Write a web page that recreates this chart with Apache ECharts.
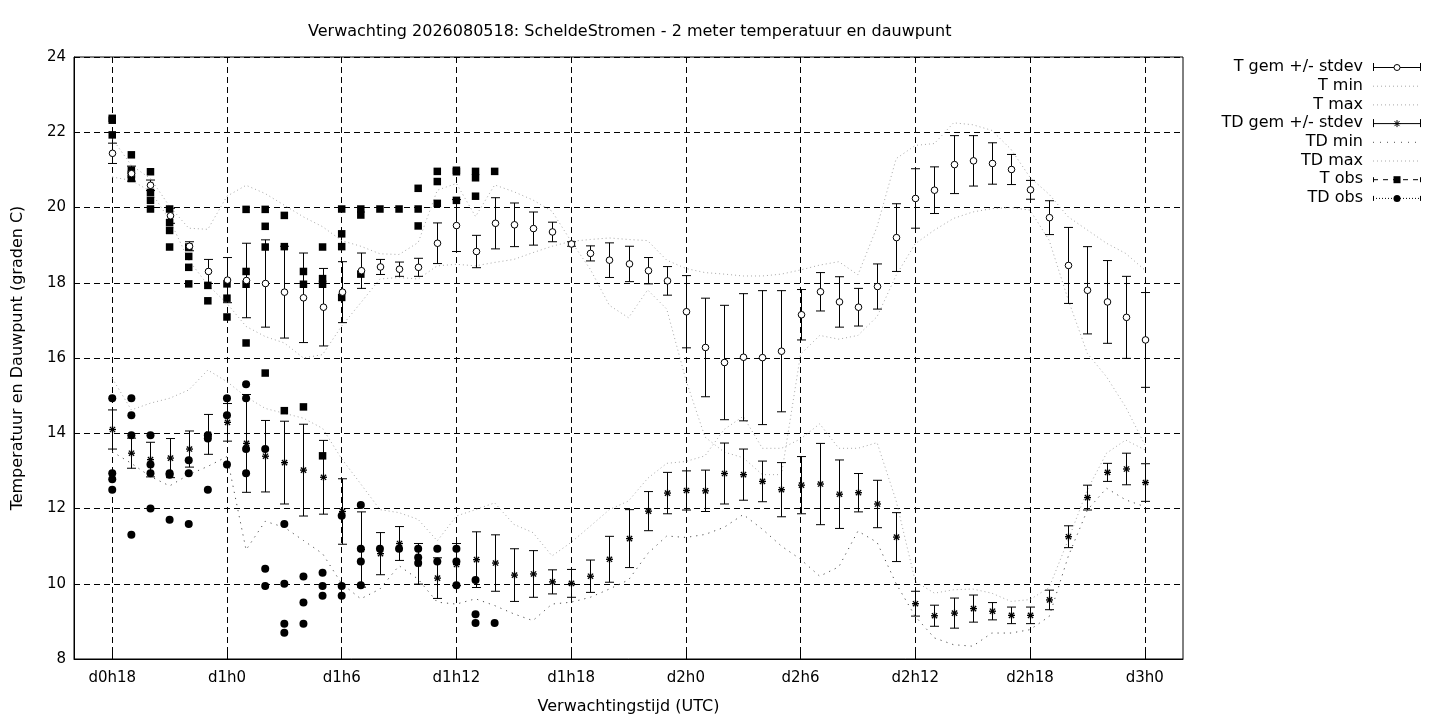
<!DOCTYPE html>
<html>
<head>
<meta charset="utf-8">
<title>ScheldeStromen - 2 meter temperatuur en dauwpunt</title>
<script src="https://cdn.jsdelivr.net/npm/echarts@6/dist/echarts.min.js"></script>
<style>
  html, body { margin: 0; padding: 0; background: #fff; }
  #chart { width: 1440px; height: 720px; }
</style>
</head>
<body>
<div id="chart"></div>
<script>
// uren vanaf d0h0
const hours = [18, 19, 20, 21, 22, 23, 24, 25, 26, 27, 28, 29, 30, 31, 32, 33, 34, 35, 36, 37, 38, 39, 40, 41,
  42, 43, 44, 45, 46, 47, 48, 49, 50, 51, 52, 53, 54, 55, 56, 57, 58, 59, 60, 61, 62, 63, 64, 65, 66, 67, 68, 69, 70, 71, 72];
const xTicks = [18, 24, 30, 36, 42, 48, 54, 60, 66, 72];

const tGemMean = [21.44, 20.9, 20.59, 19.78, 18.97, 18.3, 18.07, 18.06, 17.98, 17.75, 17.6, 17.35,
  17.75, 18.32, 18.42, 18.36, 18.41, 19.05, 19.52, 18.83, 19.58, 19.54, 19.44, 19.35,
  19.03, 18.78, 18.6, 18.5, 18.32, 18.05, 17.23, 16.28, 15.88, 16.02, 16.01, 16.18,
  17.15, 17.76, 17.49, 17.35, 17.9, 19.2, 20.24, 20.46, 21.14, 21.24, 21.17, 21.01,
  20.47, 19.73, 18.46, 17.8, 17.49, 17.08, 16.48];
const tGemSd = [0.27, 0.2, 0.14, 0.2, 0.12, 0.32, 0.6, 0.99, 1.16, 1.22, 1.19, 1.03,
  0.81, 0.47, 0.2, 0.19, 0.24, 0.54, 0.69, 0.43, 0.68, 0.58, 0.44, 0.26,
  0.06, 0.2, 0.46, 0.47, 0.35, 0.38, 0.96, 1.31, 1.52, 1.69, 1.78, 1.61,
  0.67, 0.51, 0.67, 0.5, 0.6, 0.9, 0.79, 0.62, 0.77, 0.67, 0.55, 0.4,
  0.25, 0.45, 1.01, 1.16, 1.1, 1.09, 1.26];
const tMin = [20.81, 20.72, 20.43, 19.67, 18.6, 17.94, 17.45, 16.84, 16.57, 16.4, 16.0, 16.09,
  16.85, 17.47, 18.1, 18.14, 18.1, 18.45, 18.49, 18.45, 18.54, 18.62, 18.8, 18.97,
  19.1, 18.36, 17.4, 17.07, 17.81, 17.3, 15.42, 13.9, 13.5, 13.35, 12.9, 12.9,
  16.1, 16.6, 16.5, 16.6, 17.1, 18.2, 19.04, 19.4, 19.71, 19.88, 19.97, 20.0,
  19.93, 19.13, 17.54, 16.12, 15.5, 14.7, 13.7];
const tMax = [21.83, 21.12, 20.77, 20.03, 19.45, 19.42, 20.3, 20.59, 20.37, 20.06, 19.75, 19.49,
  19.12, 18.97, 18.77, 18.75, 19.07, 20.46, 20.64, 19.76, 20.6, 20.42, 20.2, 19.9,
  19.1, 19.15, 19.19, 19.15, 19.12, 18.6, 18.38, 18.27, 18.23, 18.18, 18.18, 18.23,
  18.34, 18.47, 18.56, 18.21, 19.49, 21.3, 21.65, 21.7, 22.25, 22.2, 22.05, 21.55,
  20.8, 20.35, 19.75, 19.4, 19.05, 18.78, 18.34];

const tdGemMean = [14.1, 13.47, 13.3, 13.34, 13.58, 13.97, 14.29, 13.73, 13.39, 13.22, 13.02, 12.83,
  11.92, 10.91, 10.8, 11.07, 10.53, 10.15, 10.51, 10.64, 10.55, 10.23, 10.26, 10.05,
  10.01, 10.2, 10.65, 11.2, 11.93, 12.41, 12.48, 12.47, 12.93, 12.9, 12.72, 12.5,
  12.62, 12.65, 12.38, 12.42, 12.12, 11.24, 9.47, 9.15, 9.22, 9.34, 9.27, 9.16,
  9.16, 9.57, 11.25, 12.29, 12.96, 13.05, 12.69];
const tdGemSd = [0.52, 0.4, 0.46, 0.52, 0.48, 0.53, 0.5, 1.3, 0.95, 1.1, 1.22, 0.98,
  0.87, 1.0, 0.56, 0.45, 0.54, 0.54, 0.56, 0.74, 0.75, 0.7, 0.62, 0.32,
  0.37, 0.43, 0.61, 0.77, 0.52, 0.55, 0.52, 0.55, 0.81, 0.68, 0.54, 0.72,
  0.76, 1.08, 0.91, 0.51, 0.63, 0.65, 0.33, 0.28, 0.4, 0.36, 0.23, 0.22,
  0.22, 0.26, 0.29, 0.33, 0.24, 0.42, 0.5];
const tdMin = [13.51, 13.2, 12.85, 12.6, 12.9, 13.12, 13.38, 10.9, 11.66, 11.5, 11.15, 10.8,
  10.0, 9.6, 9.86, 10.48, 10.12, 9.51, 9.46, 9.6, 9.42, 9.2, 9.02, 9.46,
  9.51, 9.64, 9.86, 10.1, 10.8, 11.27, 11.23, 11.31, 11.5, 11.84, 11.45, 11.0,
  10.65, 10.2, 10.45, 11.4, 11.1, 10.0, 9.13, 8.56, 8.38, 8.34, 8.69, 8.69,
  8.78, 9.13, 10.73, 11.96, 12.54, 12.23, 12.05];
const tdMax = [15.46, 14.62, 14.8, 14.93, 15.15, 15.68, 15.37, 14.97, 14.66, 14.53, 14.4, 14.13,
  13.32, 12.65, 11.97, 11.89, 11.71, 11.14, 11.8, 11.97, 12.15, 11.58, 11.36, 10.74,
  11.1, 11.53, 11.97, 12.2, 12.8, 13.2, 13.25, 13.4, 14.1, 14.45, 13.6, 13.6,
  13.85, 14.25, 13.6, 13.6, 13.75, 12.2, 10.06, 9.75, 9.84, 9.86, 9.75, 9.53,
  9.58, 9.9, 11.17, 12.5, 13.47, 13.82, 13.56];

// waarnemingen [uur, waarde]
const tObs = [
  [18, 22.37], [18, 22.32], [18, 21.93],
  [19, 21.4], [19, 20.99], [19, 20.88], [19, 20.77],
  [20, 20.95], [20, 20.4], [20, 20.19], [20, 19.96],
  [21, 19.96], [21, 19.6], [21, 19.39], [21, 18.95],
  [22, 18.95], [22, 18.7], [22, 18.41], [22, 17.97],
  [23, 17.93], [23, 17.52],
  [24, 17.97], [24, 17.59], [24, 17.09],
  [25, 19.95], [25, 18.3], [25, 17.96], [25, 16.4],
  [26, 19.95], [26, 19.5], [26, 18.95], [26, 15.6],
  [27, 19.79], [27, 18.96], [27, 14.6],
  [28, 18.3], [28, 17.96], [28, 14.7],
  [29, 18.95], [29, 18.11], [29, 17.96], [29, 13.4],
  [30, 19.96], [30, 19.3], [30, 18.96], [30, 17.61],
  [31, 19.96], [31, 19.8], [31, 18.23],
  [32, 19.96], [33, 19.96],
  [34, 20.51], [34, 19.96], [34, 19.51],
  [35, 20.96], [35, 20.69], [35, 20.11],
  [36, 20.99], [36, 20.95], [36, 20.19],
  [37, 20.96], [37, 20.79], [37, 20.3],
  [38, 20.96]
];
const tdObs = [
  [18, 14.93], [18, 12.94], [18, 12.78], [18, 12.5],
  [19, 14.93], [19, 14.48], [19, 13.95], [19, 11.3],
  [20, 13.95], [20, 13.17], [20, 12.94], [20, 12.0],
  [21, 12.94], [21, 12.9], [21, 11.7],
  [22, 13.28], [22, 12.94], [22, 11.59],
  [23, 13.95], [23, 13.86], [23, 12.5],
  [24, 14.93], [24, 14.48], [24, 13.17],
  [25, 15.3], [25, 14.93], [25, 13.58], [25, 12.94],
  [26, 13.58], [26, 10.4], [26, 9.94],
  [27, 11.59], [27, 10.0], [27, 8.94], [27, 8.7],
  [28, 10.19], [28, 9.5], [28, 8.94],
  [29, 10.29], [29, 9.94], [29, 9.68],
  [30, 11.81], [30, 9.94], [30, 9.68],
  [31, 12.09], [31, 10.93], [31, 10.59], [31, 9.96],
  [32, 10.93], [33, 10.93],
  [34, 10.93], [34, 10.7], [34, 10.55],
  [35, 10.93], [35, 10.59],
  [36, 10.93], [36, 10.59], [36, 9.96],
  [37, 10.1], [37, 9.19], [37, 8.96],
  [38, 8.96]
];

const FONT = 'DejaVu Sans';
const LIGHT = '#a8a8a8';
const DARK = '#505050';

function zip(a, b) {
  return hours.map((h, i) => b ? [h, a[i], b[i]] : [h, a[i]]);
}

// foutbalk met open rondje of sterretje
function errorBar(marker) {
  return function (params, api) {
    const x = api.value(0), m = api.value(1), s = api.value(2);
    const top = api.coord([x, m + s]);
    const bot = api.coord([x, m - s]);
    const mid = api.coord([x, m]);
    const cx = Math.round(top[0]) + 0.5;
    const cap = 4.5;
    const st = { stroke: '#000', lineWidth: 1 };
    const kids = [
      { type: 'line', shape: { x1: cx, y1: top[1], x2: cx, y2: bot[1] }, style: st },
      { type: 'line', shape: { x1: cx - cap, y1: top[1], x2: cx + cap, y2: top[1] }, style: st },
      { type: 'line', shape: { x1: cx - cap, y1: bot[1], x2: cx + cap, y2: bot[1] }, style: st }
    ];
    if (marker === 'circle') {
      kids.push({ type: 'circle', shape: { cx: cx, cy: mid[1], r: 3.3 }, style: { fill: '#fff', stroke: '#000', lineWidth: 1 } });
    } else {
      const r = 3.5, d = 2.6;
      const st2 = { stroke: '#000', lineWidth: 1.3 };
      kids.push(
        { type: 'line', shape: { x1: cx - r, y1: mid[1], x2: cx + r, y2: mid[1] }, style: st2 },
        { type: 'line', shape: { x1: cx, y1: mid[1] - r, x2: cx, y2: mid[1] + r }, style: st2 },
        { type: 'line', shape: { x1: cx - d, y1: mid[1] - d, x2: cx + d, y2: mid[1] + d }, style: st2 },
        { type: 'line', shape: { x1: cx - d, y1: mid[1] + d, x2: cx + d, y2: mid[1] - d }, style: st2 }
      );
    }
    return { type: 'group', children: kids };
  };
}

function icon(body) {
  const svg = '<svg xmlns="http://www.w3.org/2000/svg" width="48" height="12" viewBox="0 0 48 12">' + body + '</svg>';
  return 'image://data:image/svg+xml;charset=utf-8,' + encodeURIComponent(svg);
}
const caps = '<line x1="0.5" y1="2" x2="0.5" y2="10" stroke="#000"/><line x1="47.5" y1="2" x2="47.5" y2="10" stroke="#000"/>';
const icons = {
  tGem: icon('<line x1="0" y1="6.5" x2="48" y2="6.5" stroke="#000"/>' + caps + '<circle cx="24" cy="6.5" r="3" fill="#fff" stroke="#000"/>'),
  light: icon('<line x1="0" y1="6.5" x2="48" y2="6.5" stroke="' + LIGHT + '" stroke-dasharray="1,3"/>'),
  tdGem: icon('<line x1="0" y1="6.5" x2="48" y2="6.5" stroke="#000"/>' + caps +
    '<path d="M20.5 6.5h7M24 3v7M21.5 4l5 5M21.5 9l5-5" stroke="#000"/>'),
  dark: icon('<line x1="0" y1="6.5" x2="48" y2="6.5" stroke="' + DARK + '" stroke-dasharray="1,6"/>'),
  tObs: icon('<line x1="0" y1="6.5" x2="48" y2="6.5" stroke="#000" stroke-dasharray="5,5"/>' +
    '<line x1="0.5" y1="4" x2="0.5" y2="9" stroke="#000"/><line x1="47.5" y1="4" x2="47.5" y2="9" stroke="#000"/>' +
    '<rect x="20.5" y="3" width="7" height="7" fill="#000"/>'),
  tdObs: icon('<line x1="0" y1="6.5" x2="48" y2="6.5" stroke="#000" stroke-dasharray="1,2"/>' +
    '<line x1="0.5" y1="4" x2="0.5" y2="9" stroke="#000"/><line x1="47.5" y1="4" x2="47.5" y2="9" stroke="#000"/>' +
    '<circle cx="24" cy="6.5" r="3.5" fill="#000"/>')
};

function dotted(name, data, color, dash) {
  return {
    name: name, type: 'line', data: data, symbol: 'none', silent: true,
    lineStyle: { color: color, width: 1, type: dash }, z: 2
  };
}

const chart = echarts.init(document.getElementById('chart'));
chart.setOption({
  animation: false,
  backgroundColor: '#fff',
  textStyle: { fontFamily: FONT, color: '#000' },
  title: {
    text: 'Verwachting 2026080518: ScheldeStromen - 2 meter temperatuur en dauwpunt',
    left: 303, top: 19,
    textStyle: { fontFamily: FONT, fontSize: 16, fontWeight: 'normal', color: '#000' }
  },
  legend: {
    orient: 'vertical', right: 14, top: 54, align: 'right',
    itemWidth: 48, itemHeight: 12, itemGap: 2.7,
    selectedMode: false,
    textStyle: { fontFamily: FONT, fontSize: 16, color: '#000', lineHeight: 16, padding: [0, 5, 0, 0] },
    data: [
      { name: 'T gem +/- stdev', icon: icons.tGem },
      { name: 'T min', icon: icons.light },
      { name: 'T max', icon: icons.light },
      { name: 'TD gem +/- stdev', icon: icons.tdGem },
      { name: 'TD min', icon: icons.dark },
      { name: 'TD max', icon: icons.light },
      { name: 'T obs', icon: icons.tObs },
      { name: 'TD obs', icon: icons.tdObs }
    ]
  },
  grid: {
    left: 74, right: 257, top: 57, bottom: 60,
    show: true, borderColor: '#000', borderWidth: 1, backgroundColor: 'transparent'
  },
  xAxis: {
    type: 'value', min: 16, max: 74,
    name: 'Verwachtingstijd (UTC)', nameLocation: 'middle', nameGap: 40,
    nameTextStyle: { fontFamily: FONT, fontSize: 16, color: '#000' },
    axisLine: { show: true, lineStyle: { color: '#000' } },
    axisTick: { show: true, inside: true, length: 6, customValues: xTicks, lineStyle: { color: '#000' } },
    axisLabel: {
      customValues: xTicks, margin: 12, fontFamily: FONT, fontSize: 15, color: '#000',
      formatter: v => 'd' + Math.floor(v / 24) + 'h' + (v % 24)
    },
    splitLine: { show: true, lineStyle: { color: '#000', width: 1, type: [6, 4] } }
  },
  yAxis: {
    type: 'value', min: 8, max: 24, interval: 2,
    name: 'Temperatuur en Dauwpunt (graden C)', nameLocation: 'middle', nameGap: 48,
    nameTextStyle: { fontFamily: FONT, fontSize: 16, color: '#000' },
    axisLine: { show: true, lineStyle: { color: '#000' } },
    axisTick: { show: true, inside: true, length: 6, lineStyle: { color: '#000' } },
    axisLabel: { margin: 8, fontFamily: FONT, fontSize: 15, color: '#000' },
    splitLine: { show: true, lineStyle: { color: '#000', width: 1, type: [6, 4] } }
  },
  series: [
    {
      name: 'T gem +/- stdev', type: 'custom', data: zip(tGemMean, tGemSd),
      encode: { x: 0, y: 1 }, renderItem: errorBar('circle'), z: 5, silent: true
    },
    dotted('T min', zip(tMin), LIGHT, [1, 3]),
    dotted('T max', zip(tMax), LIGHT, [1, 3]),
    {
      name: 'TD gem +/- stdev', type: 'custom', data: zip(tdGemMean, tdGemSd),
      encode: { x: 0, y: 1 }, renderItem: errorBar('star'), z: 5, silent: true
    },
    dotted('TD min', zip(tdMin), DARK, [1.2, 5]),
    dotted('TD max', zip(tdMax), LIGHT, [1, 3]),
    {
      name: 'T obs', type: 'scatter', data: tObs, symbol: 'rect', symbolSize: 7.5,
      itemStyle: { color: '#000', opacity: 1 }, z: 4, silent: true
    },
    {
      name: 'TD obs', type: 'scatter', data: tdObs, symbol: 'circle', symbolSize: 8,
      itemStyle: { color: '#000', opacity: 1 }, z: 4, silent: true
    }
  ]
});
</script>
</body>
</html>
